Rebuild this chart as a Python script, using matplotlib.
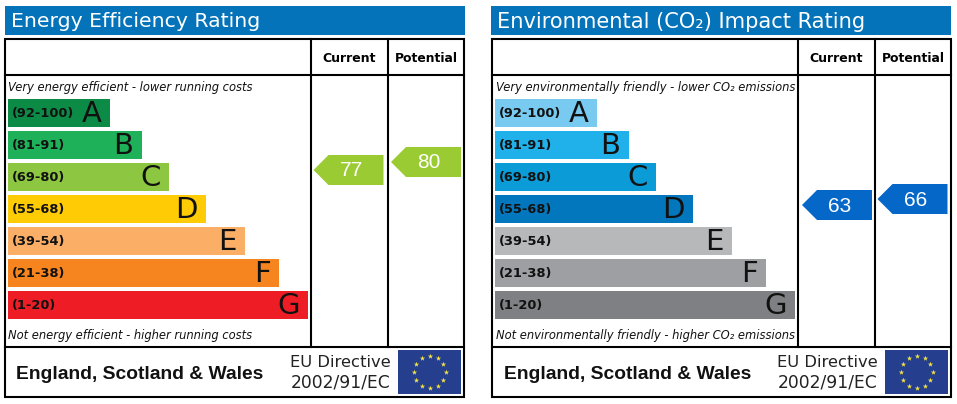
import numpy as np
import matplotlib
matplotlib.use('Agg')
import matplotlib.pyplot as plt
from matplotlib.patches import Rectangle, Polygon

# Bands, same for both charts
bands = ['(92-100)', '(81-91)', '(69-80)', '(55-68)', '(39-54)', '(21-38)', '(1-20)']
letters = ['A', 'B', 'C', 'D', 'E', 'F', 'G']
bar_lengths = [102, 134, 161, 198, 237, 271, 300]

energy_colors = ['#0b8b45', '#1fb159', '#8dc640', '#fecb04', '#fbae66', '#f6851f', '#ee1c25']
co2_colors = ['#78caf1', '#21b1ea', '#0b9bd7', '#0377bd', '#b7b8ba', '#9d9fa2', '#7f8083']

energy_current, energy_potential = 77, 80
co2_current, co2_potential = 63, 66

# tip position of the score arrows
energy_arrow_x = [313.5, 391]
energy_arrow_y = [170, 162]
co2_arrow_x = [802, 877.5]
co2_arrow_y = [205, 199]

fig = plt.figure(figsize=(9.57, 4.04), dpi=100)
ax = fig.add_axes([0, 0, 1, 1])
ax.set_xlim(0, 957)
ax.set_ylim(404, 0)
ax.axis('off')

SANS = 'DejaVu Sans'
ARIAL = 'Liberation Sans'


def score_arrow(x, y, value, color):
    pts = [(x, y), (x + 15, y - 15), (x + 70, y - 15), (x + 70, y + 15), (x + 15, y + 15)]
    ax.add_patch(Polygon(pts, closed=True, fc=color, ec='none'))
    ax.text(x + 38, y - 1, str(value), color='white', fontsize=15, family=ARIAL, ha='center', va='center_baseline')


def eu_flag(x, y):
    ax.add_patch(Rectangle((x, y), 63, 44, fc='#253f8e', ec='none'))
    ang = np.arange(12) * np.pi / 6
    ax.scatter(x + 31.5 + 16 * np.sin(ang), y + 22 + 16 * np.cos(ang), marker='*', s=16, c='#f4e542', linewidths=0, zorder=3)


def panel(x0, title_x, title, title_size, top_text, bottom_text, colors, current, potential,
          arrow_x, arrow_y, arrow_color, footer_x):
    # title strip
    ax.add_patch(Rectangle((title_x, 6), 460, 29, fc='#0573b9', ec='none'))
    ax.text(title_x + 6, 21.5, title, color='white', fontsize=title_size, family=SANS, va='center')

    # frame and grid
    ax.add_patch(Rectangle((x0, 39), 459, 358, fc='none', ec='black', lw=1.5))
    ax.plot([x0, x0 + 459], [75, 75], color='black', lw=1.5)
    ax.plot([x0, x0 + 459], [346.5, 346.5], color='black', lw=1.5)
    ax.plot([x0 + 306, x0 + 306], [39, 346.5], color='black', lw=1.5)
    ax.plot([x0 + 383, x0 + 383], [39, 346.5], color='black', lw=1.5)

    ax.text(x0 + 344.5, 58, 'Current', fontsize=9, fontweight='bold', family=SANS, ha='center', va='center')
    ax.text(x0 + 421, 58, 'Potential', fontsize=8.9, fontweight='bold', family=SANS, ha='center', va='center')

    ax.text(x0 + 3.5, 87, top_text, fontsize=8.3, style='italic', family=SANS, color='#111111', va='center')
    ax.text(x0 + 3.5, 336, bottom_text, fontsize=8.3, style='italic', family=SANS, color='#111111', va='center')

    # rating bars
    for i, (band, letter, length, c) in enumerate(zip(bands, letters, bar_lengths, colors)):
        y = 99 + 32 * i
        ax.add_patch(Rectangle((x0 + 3, y), length, 28, fc=c, ec='none'))
        ax.text(x0 + 7, y + 14, band, fontsize=9.4, fontweight='bold', family=SANS, color='#111111', va='center')
        ax.text(x0 + 3 + length - 8.5, y + 15, letter, fontsize=21, family=SANS, color='#111111', ha='right', va='center')

    score_arrow(arrow_x[0], arrow_y[0], current, arrow_color)
    score_arrow(arrow_x[1], arrow_y[1], potential, arrow_color)

    # footer
    ax.text(footer_x, 374.5, 'England, Scotland & Wales', fontsize=13.9, fontweight='bold', family=ARIAL, color='#111111', va='center')
    ax.text(x0 + 385.5, 362.5, 'EU Directive', fontsize=11.8, family=SANS, color='#222222', ha='right', va='center')
    ax.text(x0 + 385.5, 382.5, '2002/91/EC', fontsize=12.3, family=SANS, color='#222222', ha='right', va='center')
    eu_flag(x0 + 393, 350)


panel(5, 5, 'Energy Efficiency Rating', 14.7,
      'Very energy efficient - lower running costs',
      'Not energy efficient - higher running costs',
      energy_colors, energy_current, energy_potential, energy_arrow_x, energy_arrow_y, '#9bcb32', 15.5)
panel(492, 491, 'Environmental (CO₂) Impact Rating', 15.1,
      'Very environmentally friendly - lower CO₂ emissions',
      'Not environmentally friendly - higher CO₂ emissions',
      co2_colors, co2_current, co2_potential, co2_arrow_x, co2_arrow_y, '#0568c8', 504)

fig.savefig('out.png', dpi=100)
